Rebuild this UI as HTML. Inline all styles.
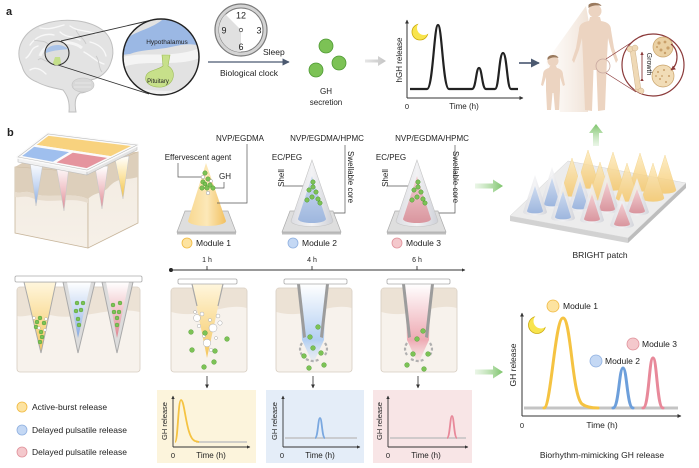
<!DOCTYPE html>
<html><head><meta charset="utf-8"><style>
html,body{margin:0;padding:0;background:#fff;}
svg{display:block;}
text{font-family:"Liberation Sans",Arial,sans-serif;fill:#222;}
</style></head><body>
<svg width="699" height="468" viewBox="0 0 699 468" xmlns="http://www.w3.org/2000/svg">
<defs>
<linearGradient id="gYel" x1="0" y1="0" x2="0" y2="1"><stop offset="0" stop-color="#fde9b8"/><stop offset="1" stop-color="#f6c562"/></linearGradient>
<linearGradient id="gYelH" x1="0" y1="0" x2="1" y2="0"><stop offset="0" stop-color="#f8d890"/><stop offset="0.5" stop-color="#fce8b8"/><stop offset="1" stop-color="#f2c060"/></linearGradient>
<linearGradient id="gBlue" x1="0" y1="0" x2="0" y2="1"><stop offset="0" stop-color="#cfdcf0"/><stop offset="1" stop-color="#9db6de"/></linearGradient>
<linearGradient id="gRed" x1="0" y1="0" x2="0" y2="1"><stop offset="0" stop-color="#f3d0d3"/><stop offset="1" stop-color="#d9959e"/></linearGradient>
<linearGradient id="gShell" x1="0" y1="0" x2="1" y2="0"><stop offset="0" stop-color="#dcdde2"/><stop offset="0.5" stop-color="#f2f2f4"/><stop offset="1" stop-color="#cfd1d8"/></linearGradient>
<linearGradient id="nBlue" x1="0" y1="0" x2="0" y2="1"><stop offset="0" stop-color="#ffffff"/><stop offset="0.55" stop-color="#c4d6f2"/><stop offset="1" stop-color="#86a9e0"/></linearGradient>
<linearGradient id="nRed" x1="0" y1="0" x2="0" y2="1"><stop offset="0" stop-color="#ffffff"/><stop offset="0.55" stop-color="#f0c2c7"/><stop offset="1" stop-color="#de8590"/></linearGradient>
<linearGradient id="nYel" x1="0" y1="0" x2="0" y2="1"><stop offset="0" stop-color="#fff6dd"/><stop offset="1" stop-color="#f5c75e"/></linearGradient>
<linearGradient id="nYel2" x1="0" y1="0" x2="0" y2="1"><stop offset="0" stop-color="#ffffff"/><stop offset="0.5" stop-color="#fbe3a0"/><stop offset="1" stop-color="#f2c040"/></linearGradient>
<linearGradient id="glowB" x1="0" y1="0" x2="0" y2="1"><stop offset="0" stop-color="#ffffff"/><stop offset="0.7" stop-color="#b3cff2"/><stop offset="1" stop-color="#d8e6f8" stop-opacity="0.3"/></linearGradient>
<linearGradient id="glowR" x1="0" y1="0" x2="0" y2="1"><stop offset="0" stop-color="#ffffff"/><stop offset="0.7" stop-color="#eeaab3"/><stop offset="1" stop-color="#f6d6da" stop-opacity="0.3"/></linearGradient>
<linearGradient id="skinL" x1="0" y1="0" x2="0" y2="1"><stop offset="0" stop-color="#e4d6c4"/><stop offset="0.35" stop-color="#ece2d5"/><stop offset="1" stop-color="#f6f1ea"/></linearGradient>
<linearGradient id="boxF" x1="0" y1="0" x2="0" y2="1"><stop offset="0" stop-color="#f2ebe1"/><stop offset="1" stop-color="#f6f0e8"/></linearGradient>
<linearGradient id="arrG" x1="0" y1="0" x2="1" y2="0"><stop offset="0" stop-color="#b9dfae" stop-opacity="0.3"/><stop offset="1" stop-color="#7cc46a"/></linearGradient>
<linearGradient id="arrGU" x1="0" y1="1" x2="0" y2="0"><stop offset="0" stop-color="#b9dfae" stop-opacity="0.3"/><stop offset="1" stop-color="#7cc46a"/></linearGradient>
<linearGradient id="arrGray" x1="0" y1="0" x2="1" y2="0"><stop offset="0" stop-color="#e6e6e6"/><stop offset="1" stop-color="#c4c4c4"/></linearGradient>
<linearGradient id="shadowG" x1="0" y1="0" x2="1" y2="0"><stop offset="0" stop-color="#f7eee6" stop-opacity="0.2"/><stop offset="1" stop-color="#efe0d3"/></linearGradient>
<clipPath id="zc"><circle cx="161" cy="57" r="38"/></clipPath>
<clipPath id="gc"><circle cx="653" cy="65" r="31"/></clipPath>
<mask id="moon1"><rect x="0" y="0" width="699" height="468" fill="#fff"/><circle cx="424" cy="28" r="7" fill="#000"/></mask>
<mask id="moon2"><rect x="0" y="0" width="699" height="468" fill="#fff"/><circle cx="541" cy="321" r="7.5" fill="#000"/></mask>
<marker id="ahb" viewBox="0 0 10 10" refX="9" refY="5" markerWidth="6" markerHeight="6" orient="auto"><path d="M0,0 L10,5 L0,10 Z" fill="#4b5970"/></marker>
<marker id="ahs" viewBox="0 0 10 10" refX="9" refY="5" markerWidth="4" markerHeight="4" orient="auto"><path d="M0,0 L10,5 L0,10 Z" fill="#333"/></marker>
<marker id="ahr" viewBox="0 0 10 10" refX="9" refY="5" markerWidth="4" markerHeight="4" orient="auto"><path d="M0,0 L10,5 L0,10 Z" fill="#8b3a3a"/></marker>
</defs>

<!-- ============ PANEL A ============ -->
<text x="6" y="15" font-size="11" font-weight="bold">a</text>

<!-- brain -->
<path d="M22,66 C14,50 22,31 44,24 C62,18 86,19 101,29 C113,37 115,52 111,62 C108,72 100,78 91,80 C93,87 88,93 80,93 C76,96 74,101 76,112 L69,112 C70,101 67,95 63,90 C54,88 44,86 37,82 C29,79 24,74 22,66 Z" fill="#e3e3e3" stroke="#bfbfbf" stroke-width="1"/>
<g fill="none" stroke="#f8f8f8" stroke-width="1.4" stroke-linecap="round">
<path d="M30,45 C36,36 46,33 54,35"/><path d="M40,28 C50,30 56,27 64,25"/><path d="M70,26 C78,32 88,30 96,34"/>
<path d="M26,58 C32,54 30,48 38,46"/><path d="M90,42 C98,44 104,48 106,56"/><path d="M84,52 C92,56 96,62 104,64"/>
<path d="M30,70 C36,66 42,70 46,74"/><path d="M60,32 C66,38 74,36 80,40"/>
</g>
<g fill="none" stroke="#cacaca" stroke-width="0.9">
<path d="M34,40 C40,42 44,40 48,44"/><path d="M76,30 C78,36 84,38 86,44"/><path d="M96,56 C100,60 98,68 102,72"/><path d="M38,60 C42,56 44,62 50,62"/>
</g>
<path d="M40,56 C44,42 70,38 82,48" fill="none" stroke="#f5f5f5" stroke-width="3"/>
<ellipse cx="83" cy="85" rx="11" ry="7" fill="#d8d8d8" stroke="#c2c2c2" stroke-width="0.6"/>
<path d="M75,83 L91,83 M74,87 L91,87" stroke="#eaeaea" stroke-width="0.8"/>
<circle cx="57" cy="53" r="12" fill="#dedede" stroke="#333" stroke-width="1.1"/>
<path d="M46,50 C50,44 62,43 68,49 C62,50 54,50 46,53 Z" fill="#a9c3e8"/>
<path d="M55,57 L60,57 L61,63 C59,66 54,66 53,63 Z" fill="#c4df8a"/>
<line x1="61" y1="41" x2="152" y2="20" stroke="#333" stroke-width="0.9"/>
<line x1="58" y1="65" x2="149" y2="94" stroke="#333" stroke-width="0.9"/>
<!-- zoom circle -->
<circle cx="161" cy="57" r="38" fill="#e2e2e2"/>
<g clip-path="url(#zc)">
<path d="M120,58 C140,50 170,60 200,48 L200,58 C175,68 145,58 120,68 Z" fill="#f4f4f4"/>
<path d="M120,44 C130,32 150,30 162,20 L200,18 L200,46 C188,42 178,46 166,48 C152,50 140,50 130,54 L120,55 Z" fill="#9bb8e4"/>
<path d="M120,90 C140,84 150,96 200,88 L200,100 L120,100 Z" fill="#f0f0f0"/>
</g>
<path d="M162,55 L170,55 L168,66 C176,70 176,84 162,87 C150,88 144,82 146,76 C148,70 158,70 163,66 Z" fill="#c7e08a" stroke="#9bbb55" stroke-width="0.6"/>
<circle cx="161" cy="57" r="38" fill="none" stroke="#222" stroke-width="1.5"/>
<text x="167" y="44" font-size="6.5" text-anchor="middle" fill="#333">Hypothalamus</text>
<text x="158" y="83" font-size="6" text-anchor="middle" fill="#333">Pituitary</text>

<!-- clock -->
<circle cx="241" cy="30" r="26" fill="#d4d4d4" stroke="#7a7a7a" stroke-width="1.2"/>
<circle cx="241" cy="30" r="22" fill="#fff" stroke="#7a7a7a" stroke-width="1"/>
<path d="M241,30 L241,52 A22,22 0 0,1 225.4,14.4 Z" fill="#e0e0e0"/>
<circle cx="241" cy="30" r="1.7" fill="#fff" stroke="#555" stroke-width="0.8"/>
<text x="241" y="18.5" font-size="9" text-anchor="middle">12</text>
<text x="259" y="33.5" font-size="9" text-anchor="middle">3</text>
<text x="241" y="50" font-size="9" text-anchor="middle">6</text>
<text x="224" y="33.5" font-size="9" text-anchor="middle">9</text>
<text x="263" y="55" font-size="8.5">Sleep</text>
<line x1="208" y1="62" x2="289" y2="62" stroke="#4b5970" stroke-width="1.2" marker-end="url(#ahb)"/>
<text x="249" y="76" font-size="8.5" text-anchor="middle" fill="#333">Biological clock</text>

<!-- GH secretion -->
<circle cx="326" cy="46" r="7" fill="#7cc255" stroke="#4f9a34" stroke-width="0.8"/>
<circle cx="316" cy="70" r="7" fill="#7cc255" stroke="#4f9a34" stroke-width="0.8"/>
<circle cx="339" cy="63" r="7" fill="#7cc255" stroke="#4f9a34" stroke-width="0.8"/>
<text x="326" y="94" font-size="8" text-anchor="middle" fill="#333">GH</text>
<text x="326" y="105" font-size="8" text-anchor="middle" fill="#333">secretion</text>

<!-- gray arrow -->
<polygon points="365,59.5 378,59.5 378,56 386,61 378,66 378,62.5 365,62.5" fill="url(#arrGray)"/>

<!-- hGH graph -->
<line x1="407" y1="98" x2="407" y2="20" stroke="#333" stroke-width="1" marker-end="url(#ahs)"/>
<line x1="407" y1="98" x2="523" y2="98" stroke="#333" stroke-width="1" marker-end="url(#ahs)"/>
<path d="M410,89 L427,89 C433,89 434,25 438,25 C442,25 443,89 449,89 L472,89 C476,89 476,68 479,68 C482,68 482,89 486,89 L495,89 C499,89 499,53 503,53 C507,53 507,89 511,89 L518,89" fill="none" stroke="#222" stroke-width="2.2" stroke-linejoin="round"/>
<text transform="translate(402,60) rotate(-90)" font-size="8" text-anchor="middle" fill="#333">hGH release</text>
<text x="407" y="109" font-size="7.5" text-anchor="middle" fill="#333">0</text>
<text x="464" y="109" font-size="8" text-anchor="middle" fill="#333">Time (h)</text>
<circle cx="420" cy="32" r="8" fill="#f8e44d" stroke="#caa90d" stroke-width="0.8" mask="url(#moon1)"/>

<!-- dark arrow -->
<line x1="519" y1="63" x2="539" y2="63" stroke="#3b4a66" stroke-width="1.5" marker-end="url(#ahb)"/>

<!-- humans -->
<polygon points="546,62 586,6 592,40 588,112 560,112" fill="url(#shadowG)"/>
<circle cx="595" cy="11" r="6.5" fill="#ecd4c1"/>
<path d="M588.5,5 C590,2 600,2 601.5,6 C598,5 592,5 588.5,8 Z" fill="#9a7a5e"/>
<path d="M590,17 L600,17 L601,21 C608,22 611,25 611,30 L614,48 L618,60 L616,63 L611,50 L608,38 L607,58 L605,110 L598,111 L596.5,70 L593.5,70 L592,111 L585,110 L583,58 L582,38 L579,50 L574,63 L572,60 L576,48 L579,30 C579,25 582,22 589,21 Z" fill="#ecd4c1"/>
<circle cx="553" cy="61" r="5.5" fill="#ecd4c1"/>
<path d="M547.5,58 C549,54 557,54 558.5,58 C555,57 551,57 547.5,60 Z" fill="#9a7a5e"/>
<path d="M550,66 L556,66 L557,68 C561,69 563,71 563,75 L565,85 L563,86 L560,77 L560,90 L559,110 L555,110 L553.5,93 L552.5,93 L551,110 L547,110 L546,90 L546,77 L543,86 L541,85 L543,75 C543,71 545,69 549,68 Z" fill="#ecd4c1"/>
<circle cx="603" cy="66" r="7" fill="none" stroke="#c9a9a0" stroke-width="0.8"/>
<line x1="606" y1="59" x2="640" y2="37" stroke="#8b3a3a" stroke-width="0.7"/>
<line x1="606" y1="73" x2="636" y2="92" stroke="#8b3a3a" stroke-width="0.7"/>
<circle cx="653" cy="65" r="31" fill="#fff" stroke="#8b3a3a" stroke-width="1.2"/>
<g clip-path="url(#gc)">
<path d="M630,50 L635,49 L641,90 L636,91 Z" fill="#efd9b6" stroke="#cdb08a" stroke-width="0.5"/>
<circle cx="630" cy="49" r="3" fill="#efd9b6" stroke="#cdb08a" stroke-width="0.5"/>
<circle cx="635" cy="48" r="3" fill="#efd9b6" stroke="#cdb08a" stroke-width="0.5"/>
<circle cx="636" cy="92" r="3" fill="#efd9b6" stroke="#cdb08a" stroke-width="0.5"/>
<circle cx="641" cy="91" r="3" fill="#efd9b6" stroke="#cdb08a" stroke-width="0.5"/>
</g>
<line x1="642" y1="78" x2="642" y2="52" stroke="#8b3a3a" stroke-width="0.9" marker-end="url(#ahr)" marker-start="url(#ahr)"/>
<text transform="translate(647,64) rotate(90)" font-size="7" text-anchor="middle" fill="#333">Growth</text>
<circle cx="663" cy="47" r="10" fill="#ead1a4" stroke="#c9a36a" stroke-width="0.7"/>
<circle cx="663" cy="76" r="11" fill="#f1dcb6" stroke="#c9a36a" stroke-width="0.7"/>
<g fill="#c9a06a">
<circle cx="659" cy="43" r="1.6"/><circle cx="665" cy="42" r="1.4"/><circle cx="668" cy="48" r="1.6"/><circle cx="661" cy="50" r="1.5"/><circle cx="657" cy="47" r="1"/><circle cx="665" cy="53" r="1.2"/>
<circle cx="658" cy="72" r="1"/><circle cx="664" cy="70" r="1"/><circle cx="669" cy="76" r="1"/><circle cx="660" cy="79" r="1"/><circle cx="666" cy="82" r="1"/><circle cx="656" cy="76" r="0.9"/><circle cx="662" cy="76" r="0.9"/>
</g>
<path d="M671,44 C679,50 679,64 671,70" fill="none" stroke="#8b3a3a" stroke-width="1.2" marker-end="url(#ahr)"/>

<!-- green up arrow -->
<polygon points="593,146 593,133 589,133 596,124 603,133 599,133 599,146" fill="url(#arrGU)"/>

<!-- ============ PANEL B ============ -->
<text x="7" y="136" font-size="11" font-weight="bold">b</text>

<!-- 3D patch box -->
<polygon points="15,167 45,150 138,152 88,173" fill="#dccdb8"/>
<polygon points="15,167 88,173 88,248 15,233" fill="url(#boxF)" stroke="#c8b69c" stroke-width="0.8"/>
<polygon points="88,173 138,152 138,223 88,248" fill="url(#boxF)" stroke="#c8b69c" stroke-width="0.8"/>
<path d="M15,167 L88,173 L88,199 C70,191 50,200 32,193 C25,190 20,194 15,192 Z" fill="#ddcfbb"/>
<path d="M88,173 L138,152 L138,177 C125,181 118,176 108,188 C102,194 95,192 88,199 Z" fill="#ddcfbb"/>
<path d="M15,192 C20,194 25,190 32,193 C50,200 70,191 88,199 L88,203 C70,196 50,205 32,198 C25,195 20,198 15,197 Z" fill="#e7dccd"/>
<polygon points="30,162 43,163 36,206" fill="url(#nBlue)" stroke="#c8c8c8" stroke-width="0.6"/>
<polygon points="56,165 69,166 64,211" fill="url(#nRed)" stroke="#c8c8c8" stroke-width="0.6"/>
<polygon points="95,167 108,166 102,209" fill="url(#nRed)" stroke="#c8c8c8" stroke-width="0.6"/>
<polygon points="115,159 129,156 123,199" fill="url(#nYel2)" stroke="#c8c8c8" stroke-width="0.6"/>
<polygon points="18,157 87,170 87,175 18,162" fill="#f1f1f1" stroke="#bdbdbd" stroke-width="0.6"/>
<polygon points="87,170 137,145 137,150 87,175" fill="#e4e4e4" stroke="#bdbdbd" stroke-width="0.6"/>
<polygon points="18,157 48,134 137,145 87,170" fill="#fbfbfb" stroke="#bdbdbd" stroke-width="0.7"/>
<g stroke="#fbfbfb" stroke-width="2.4" stroke-linejoin="round">
<polygon points="33,145.5 48,134 137,145 112,157.5 72.5,151.5" fill="#f8d27e"/>
<polygon points="18,157 33,145.5 72.5,151.5 52.5,163.5" fill="#9fbfee"/>
<polygon points="72.5,151.5 112,157.5 87,170 52.5,163.5" fill="#e5949e"/>
</g>
<polygon points="18,157 48,134 137,145 87,170" fill="none" stroke="#fbfbfb" stroke-width="3.5" stroke-linejoin="round"/>
<polygon points="18,157 48,134 137,145 87,170" fill="none" stroke="#bdbdbd" stroke-width="0.6"/>

<!-- labels row -->
<text x="240" y="141" font-size="8" text-anchor="middle">NVP/EGDMA</text>
<text x="327" y="141" font-size="8" text-anchor="middle">NVP/EGDMA/HPMC</text>
<text x="432" y="141" font-size="8" text-anchor="middle">NVP/EGDMA/HPMC</text>
<text x="198" y="160" font-size="8" text-anchor="middle">Effervescent agent</text>
<text x="219" y="179" font-size="8">GH</text>
<text x="287" y="160" font-size="8" text-anchor="middle">EC/PEG</text>
<text x="391" y="160" font-size="8" text-anchor="middle">EC/PEG</text>
<text transform="translate(284,178) rotate(-90)" font-size="8" text-anchor="middle" fill="#9a9a9a">Shell</text>
<text transform="translate(388,178) rotate(-90)" font-size="8" text-anchor="middle" fill="#9a9a9a">Shell</text>
<text transform="translate(348,177) rotate(90)" font-size="8" text-anchor="middle" fill="#7f9fd6">Swellable core</text>
<text transform="translate(453,177) rotate(90)" font-size="8" text-anchor="middle" fill="#e3a0a9">Swellable core</text>

<!-- module 1 -->
<polygon points="177,232 236,232 236,234.5 177,234.5" fill="#bdbdbd"/>
<polygon points="185,211 228,211 236,232 177,232" fill="#dedede" stroke="#ababab" stroke-width="0.7"/>
<path d="M206,163 L188,221 A19,5 0 0,0 226,221 Z" fill="url(#gYelH)"/>
<g fill="none" stroke="#555" stroke-width="0.7">
<path d="M247,144 L247,203 L217,203"/><path d="M178,163 L178,177 L202,177"/><path d="M224,182 L224,188 L213,188"/>
<path d="M345,145 L345,213 L322,213"/><path d="M283,186 L306,186"/>
<path d="M455,145 L455,213 L427,213"/><path d="M387,186 L410,186"/>
</g>
<g fill="#7cc255" stroke="#4f9a34" stroke-width="0.5">
<circle cx="205" cy="173" r="2.2"/><circle cx="208" cy="179" r="2.2"/><circle cx="203" cy="182" r="2.2"/><circle cx="210" cy="185" r="2.2"/><circle cx="202" cy="188" r="2.2"/><circle cx="207" cy="188" r="2.2"/><circle cx="213" cy="188" r="2.2"/><circle cx="205" cy="184" r="2"/>
</g>
<g fill="#fff" stroke="#999" stroke-width="0.5"><circle cx="208" cy="193" r="1.8"/><circle cx="203" cy="177" r="1.8"/><circle cx="211" cy="181" r="1.5"/></g>
<circle cx="187" cy="243" r="5" fill="#fde3a0" stroke="#f0b940" stroke-width="0.8"/>
<text x="196" y="246" font-size="8.5">Module 1</text>

<!-- module 2 -->
<polygon points="282,232 341,232 341,234.5 282,234.5" fill="#bdbdbd"/>
<polygon points="290,211 333,211 341,232 282,232" fill="#dedede" stroke="#ababab" stroke-width="0.7"/>
<path d="M312,160 L291,221 A21,5.5 0 0,0 333,221 Z" fill="url(#gShell)" stroke="#c4c4c4" stroke-width="0.6"/>
<path d="M312,176 L298,219 A14,4 0 0,0 326,219 Z" fill="url(#gBlue)"/>
<g fill="#7cc255" stroke="#4f9a34" stroke-width="0.5">
<circle cx="313" cy="182" r="2.2"/><circle cx="309" cy="190" r="2.2"/><circle cx="316" cy="192" r="2.2"/><circle cx="312" cy="197" r="2.2"/><circle cx="307" cy="200" r="2.2"/><circle cx="318" cy="199" r="2.2"/><circle cx="320" cy="203" r="2.2"/><circle cx="313" cy="187" r="2.2"/>
</g>
<circle cx="293" cy="243" r="5" fill="#c4d8f4" stroke="#8fb0e0" stroke-width="0.8"/>
<text x="302" y="246" font-size="8.5">Module 2</text>

<!-- module 3 -->
<polygon points="387,232 446,232 446,234.5 387,234.5" fill="#bdbdbd"/>
<polygon points="395,211 438,211 446,232 387,232" fill="#dedede" stroke="#ababab" stroke-width="0.7"/>
<path d="M417,160 L396,221 A21,5.5 0 0,0 438,221 Z" fill="url(#gShell)" stroke="#c4c4c4" stroke-width="0.6"/>
<path d="M417,176 L403,219 A14,4 0 0,0 431,219 Z" fill="url(#gRed)"/>
<g fill="#7cc255" stroke="#4f9a34" stroke-width="0.5">
<circle cx="418" cy="182" r="2.2"/><circle cx="414" cy="190" r="2.2"/><circle cx="421" cy="192" r="2.2"/><circle cx="417" cy="197" r="2.2"/><circle cx="412" cy="200" r="2.2"/><circle cx="423" cy="199" r="2.2"/><circle cx="425" cy="203" r="2.2"/><circle cx="418" cy="187" r="2.2"/>
</g>
<circle cx="397" cy="243" r="5" fill="#f4c8cc" stroke="#e0919a" stroke-width="0.8"/>
<text x="406" y="246" font-size="8.5">Module 3</text>

<!-- green arrow -> patch -->
<polygon points="475,183.5 493,183.5 493,179.5 503,186 493,192.5 493,188.5 475,188.5" fill="url(#arrG)"/>

<!-- BRIGHT patch -->
<polygon points="510,216 628,238 628,243 510,221" fill="#d2d2d2"/>
<polygon points="628,238 686,183 686,188 628,243" fill="#bdbdbd"/>
<polygon points="510,216 568,161 686,183 628,238" fill="#ececec" stroke="#d4d4d4" stroke-width="0.5"/>
<g fill="url(#gYel)" opacity="0.8" stroke="#efc76a" stroke-width="0.4">
<path d="M588,150 L577,185 A11,3.5 0 0,0 599,185 Z"/>
<path d="M613,152 L602,187 A11,3.5 0 0,0 624,187 Z"/>
<path d="M640,153 L629,188 A11,3.5 0 0,0 651,188 Z"/>
<path d="M665,155 L654,190 A11,3.5 0 0,0 676,190 Z"/>
<path d="M572,158 L561,193 A11,3.5 0 0,0 583,193 Z"/>
<path d="M600,162 L589,197 A11,3.5 0 0,0 611,197 Z"/>
<path d="M627,163 L616,198 A11,3.5 0 0,0 638,198 Z"/>
<path d="M653,163 L642,198 A11,3.5 0 0,0 664,198 Z"/>
</g>
<g>
<path d="M552,167 L540,205 A12,3.5 0 0,0 564,205 Z" fill="url(#gShell)" opacity="0.85"/><path d="M552,178 L544,204 A8,2.4 0 0,0 560,204 Z" fill="url(#gBlue)"/>
<path d="M580,170 L568,208 A12,3.5 0 0,0 592,208 Z" fill="url(#gShell)" opacity="0.85"/><path d="M580,181 L572,207 A8,2.4 0 0,0 588,207 Z" fill="url(#gBlue)"/>
<path d="M607,170 L595,210 A12,3.5 0 0,0 619,210 Z" fill="url(#gShell)" opacity="0.85"/><path d="M607,182 L599,209 A8,2.4 0 0,0 615,209 Z" fill="url(#gRed)"/>
<path d="M637,178 L625,212 A12,3.5 0 0,0 649,212 Z" fill="url(#gShell)" opacity="0.85"/><path d="M637,189 L629,211 A8,2.4 0 0,0 645,211 Z" fill="url(#gRed)"/>
<path d="M535,175 L523,212 A12,3.5 0 0,0 547,212 Z" fill="url(#gShell)" opacity="0.85"/><path d="M535,186 L527,211 A8,2.4 0 0,0 543,211 Z" fill="url(#gBlue)"/>
<path d="M563,180 L551,218 A12,3.5 0 0,0 575,218 Z" fill="url(#gShell)" opacity="0.85"/><path d="M563,191 L555,217 A8,2.4 0 0,0 571,217 Z" fill="url(#gBlue)"/>
<path d="M592,183 L580,220 A12,3.5 0 0,0 604,220 Z" fill="url(#gShell)" opacity="0.85"/><path d="M592,194 L584,219 A8,2.4 0 0,0 600,219 Z" fill="url(#gRed)"/>
<path d="M622,193 L610,225 A12,3.5 0 0,0 634,225 Z" fill="url(#gShell)" opacity="0.85"/><path d="M622,203 L614,224 A8,2.4 0 0,0 630,224 Z" fill="url(#gRed)"/>
</g>
<text x="600" y="258" font-size="8.5" text-anchor="middle">BRIGHT patch</text>

<!-- timeline -->
<circle cx="171" cy="270" r="2" fill="#222"/>
<line x1="171" y1="270" x2="465" y2="270" stroke="#333" stroke-width="0.9" marker-end="url(#ahs)"/>
<g stroke="#333" stroke-width="0.9"><line x1="207" y1="266" x2="207" y2="270"/><line x1="312" y1="266" x2="312" y2="270"/><line x1="417" y1="266" x2="417" y2="270"/></g>
<text x="207" y="262" font-size="7" text-anchor="middle">1 h</text>
<text x="312" y="262" font-size="7" text-anchor="middle">4 h</text>
<text x="417" y="262" font-size="7" text-anchor="middle">6 h</text>

<!-- left skin block -->
<rect x="17" y="287" width="123" height="85" rx="3" fill="#f7f2ec" stroke="#d6ccc0" stroke-width="0.8"/>
<path d="M17.5,287.5 L139.5,287.5 L139.5,312 C110,305 80,322 50,315 C35,312 25,318 17.5,316 Z" fill="#ece2d5"/>
<polygon points="24,282 56,282 41,353" fill="url(#nYel)" stroke="#aaa" stroke-width="1"/>
<polygon points="63,282 95,282 78,353" fill="#dcdcdc" stroke="#aaa" stroke-width="1"/>
<polygon points="67,282 91,282 78,338" fill="url(#nBlue)"/>
<polygon points="102,282 133,282 117,353" fill="#dcdcdc" stroke="#aaa" stroke-width="1"/>
<polygon points="106,282 129,282 117,338" fill="url(#nRed)"/>
<rect x="15" y="276" width="127" height="6" rx="1.5" fill="#fff" stroke="#aaa" stroke-width="0.8"/>
<g fill="#7cc255" stroke="#4f9a34" stroke-width="0.4">
<circle cx="37" cy="322" r="2"/><circle cx="40" cy="318" r="2"/><circle cx="44" cy="323" r="2"/><circle cx="36" cy="327" r="2"/><circle cx="41" cy="332" r="2"/><circle cx="42" cy="337" r="2"/><circle cx="40" cy="342" r="2"/>
<circle cx="77" cy="303" r="2"/><circle cx="83" cy="303" r="2"/><circle cx="76" cy="311" r="2"/><circle cx="81" cy="310" r="2"/><circle cx="78" cy="319" r="2"/><circle cx="79" cy="325" r="2"/>
<circle cx="113" cy="305" r="2"/><circle cx="120" cy="303" r="2"/><circle cx="114" cy="312" r="2"/><circle cx="119" cy="312" r="2"/><circle cx="117" cy="318" r="2"/><circle cx="117" cy="325" r="2"/>
</g>
<g fill="#fff" stroke="#aaa" stroke-width="0.4"><circle cx="34" cy="318" r="1.5"/><circle cx="46" cy="319" r="1.5"/><circle cx="39" cy="328" r="1.4"/><circle cx="45" cy="330" r="1.4"/></g>

<!-- block 1 -->
<rect x="171" y="288" width="76" height="84" rx="3" fill="#f7f2ec" stroke="#d6ccc0" stroke-width="0.8"/>
<path d="M171.5,288.5 L246.5,288.5 L246.5,308 C225,302 200,320 171.5,312 Z" fill="#ece2d5"/>
<path d="M192,284 L223,284 L207,358 Z" fill="url(#nYel)"/>
<path d="M192,284 L197,306 M223,284 L218,306" stroke="#a8a8a8" stroke-width="1.2"/>
<rect x="178" y="279" width="59" height="5" rx="1.5" fill="#fff" stroke="#aaa" stroke-width="0.8"/>
<g fill="#fff" stroke="#aaa" stroke-width="0.5">
<circle cx="197" cy="318" r="3.5"/><circle cx="202" cy="314" r="2"/><circle cx="213" cy="328" r="4"/><circle cx="207" cy="343" r="3.8"/><circle cx="218" cy="316" r="2"/><circle cx="210" cy="320" r="1.6"/><circle cx="220" cy="323" r="2.2"/><circle cx="199" cy="326" r="1.8"/><circle cx="204" cy="336" r="1.6"/><circle cx="211" cy="350" r="1.8"/><circle cx="216" cy="338" r="1.5"/><circle cx="195" cy="312" r="1.5"/>
</g>
<g fill="#7cc255" stroke="#4f9a34" stroke-width="0.4">
<circle cx="191" cy="332" r="2.4"/><circle cx="227" cy="339" r="2.4"/><circle cx="192" cy="350" r="2.4"/><circle cx="215" cy="351" r="2.4"/><circle cx="214" cy="362" r="2.4"/><circle cx="204" cy="367" r="2.4"/><circle cx="205" cy="333" r="2.4"/>
</g>

<!-- block 2 -->
<rect x="276" y="288" width="76" height="84" rx="3" fill="#f7f2ec" stroke="#d6ccc0" stroke-width="0.8"/>
<path d="M276.5,288.5 L351.5,288.5 L351.5,308 C330,302 305,320 276.5,312 Z" fill="#ece2d5"/>
<polygon points="300,284 326,284 324,340 313,364 302,340" fill="url(#glowB)"/>
<polygon points="297,284 300,284 306,337 303,338" fill="#9c9c9c"/>
<polygon points="326,284 329,284 323,338 320,337" fill="#9c9c9c"/>
<g fill="none" stroke="#b0b0b0" stroke-width="2.2" stroke-dasharray="3,2">
<path d="M302,343 Q298,349 302,355"/><path d="M325,343 Q329,349 325,355"/><path d="M306,359 Q313,363 320,359"/>
</g>
<rect x="284" y="279" width="63" height="5" rx="1.5" fill="#fff" stroke="#aaa" stroke-width="0.8"/>
<g fill="#7cc255" stroke="#4f9a34" stroke-width="0.4">
<circle cx="318" cy="327" r="2.4"/><circle cx="310" cy="337" r="2.4"/><circle cx="313" cy="348" r="2.4"/><circle cx="321" cy="353" r="2.4"/><circle cx="304" cy="356" r="2.4"/><circle cx="324" cy="365" r="2.4"/><circle cx="309" cy="368" r="2.4"/>
</g>

<!-- block 3 -->
<rect x="381" y="288" width="76" height="84" rx="3" fill="#f7f2ec" stroke="#d6ccc0" stroke-width="0.8"/>
<path d="M381.5,288.5 L456.5,288.5 L456.5,308 C435,302 410,320 381.5,312 Z" fill="#ece2d5"/>
<polygon points="405,284 431,284 429,340 418,364 407,340" fill="url(#glowR)"/>
<polygon points="402,284 405,284 411,337 408,338" fill="#9c9c9c"/>
<polygon points="431,284 434,284 428,338 425,337" fill="#9c9c9c"/>
<g fill="none" stroke="#b0b0b0" stroke-width="2.2" stroke-dasharray="3,2">
<path d="M407,343 Q403,349 407,355"/><path d="M430,343 Q434,349 430,355"/><path d="M411,359 Q418,363 425,359"/>
</g>
<rect x="387" y="279" width="63" height="5" rx="1.5" fill="#fff" stroke="#aaa" stroke-width="0.8"/>
<g fill="#7cc255" stroke="#4f9a34" stroke-width="0.4">
<circle cx="423" cy="331" r="2.4"/><circle cx="417" cy="339" r="2.4"/><circle cx="413" cy="354" r="2.4"/><circle cx="428" cy="354" r="2.4"/><circle cx="407" cy="365" r="2.4"/><circle cx="424" cy="369" r="2.4"/>
</g>

<!-- down arrows -->
<g stroke="#555" stroke-width="1"><line x1="207" y1="376" x2="207" y2="388" marker-end="url(#ahs)"/><line x1="313" y1="376" x2="313" y2="388" marker-end="url(#ahs)"/><line x1="418" y1="376" x2="418" y2="388" marker-end="url(#ahs)"/></g>

<!-- legend -->
<circle cx="22" cy="407" r="5" fill="#fde3a0" stroke="#f0b940" stroke-width="0.8"/>
<circle cx="22" cy="430" r="5" fill="#c4d8f4" stroke="#8fb0e0" stroke-width="0.8"/>
<circle cx="22" cy="452" r="5" fill="#f4c8cc" stroke="#e0919a" stroke-width="0.8"/>
<text x="32" y="410" font-size="8.5" fill="#333">Active-burst release</text>
<text x="32" y="433" font-size="8.5" fill="#333">Delayed pulsatile release</text>
<text x="32" y="455" font-size="8.5" fill="#333">Delayed pulsatile release</text>

<!-- small graphs -->
<rect x="157" y="390" width="99" height="73" fill="#fcf4dc"/>
<rect x="266" y="390" width="98" height="73" fill="#e4edf8"/>
<rect x="373" y="390" width="99" height="73" fill="#f8e5e6"/>
<g stroke="#333" stroke-width="0.9">
<line x1="173" y1="447" x2="173" y2="396" marker-end="url(#ahs)"/><line x1="173" y1="447" x2="250" y2="447" marker-end="url(#ahs)"/>
<line x1="283" y1="447" x2="283" y2="396" marker-end="url(#ahs)"/><line x1="283" y1="447" x2="360" y2="447" marker-end="url(#ahs)"/>
<line x1="388" y1="447" x2="388" y2="396" marker-end="url(#ahs)"/><line x1="388" y1="447" x2="468" y2="447" marker-end="url(#ahs)"/>
</g>
<path d="M196,442 L247,442" stroke="#c2c2c2" stroke-width="1.6" fill="none"/>
<path d="M175,442 C178,442 178,400 181,400 C185,400 186,438 195,441 L199,442" stroke="#f5c342" stroke-width="1.8" fill="none"/>
<path d="M285,438 L357,438" stroke="#c2c2c2" stroke-width="1.6" fill="none"/>
<path d="M315,438 C318,438 318,418 320,418 C322,418 322,438 325,438" stroke="#7aa8e0" stroke-width="1.8" fill="none"/>
<path d="M390,438 L466,438" stroke="#c2c2c2" stroke-width="1.6" fill="none"/>
<path d="M447,438 C450,438 450,416 452,416 C454,416 454,438 457,438" stroke="#e8899a" stroke-width="1.8" fill="none"/>
<text transform="translate(167,421) rotate(-90)" font-size="7.5" text-anchor="middle">GH release</text>
<text transform="translate(277,421) rotate(-90)" font-size="7.5" text-anchor="middle">GH release</text>
<text transform="translate(382,421) rotate(-90)" font-size="7.5" text-anchor="middle">GH release</text>
<text x="173" y="458" font-size="7.5" text-anchor="middle">0</text>
<text x="211" y="458" font-size="8" text-anchor="middle">Time (h)</text>
<text x="282" y="458" font-size="7.5" text-anchor="middle">0</text>
<text x="320" y="458" font-size="8" text-anchor="middle">Time (h)</text>
<text x="388" y="458" font-size="7.5" text-anchor="middle">0</text>
<text x="426" y="458" font-size="8" text-anchor="middle">Time (h)</text>

<!-- green arrow -> big graph -->
<polygon points="475,369.5 493,369.5 493,365.5 503,372 493,378.5 493,374.5 475,374.5" fill="url(#arrG)"/>

<!-- big graph -->
<line x1="522" y1="416" x2="522" y2="313" stroke="#333" stroke-width="1" marker-end="url(#ahs)"/>
<line x1="522" y1="416" x2="681" y2="416" stroke="#333" stroke-width="1" marker-end="url(#ahs)"/>
<path d="M524,408 L678,408" stroke="#c4c4c4" stroke-width="3" fill="none"/>
<path d="M544,408 C551,408 555,318 563,318 C571,318 572,395 582,404 C586,407 592,408 598,408" stroke="#f5c342" stroke-width="3" fill="none" stroke-linecap="round"/>
<path d="M613,408 C619,408 619,368 623,368 C627,368 627,408 633,408" stroke="#6d9fdb" stroke-width="3" fill="none" stroke-linecap="round"/>
<path d="M643,408 C649,408 649,358 653,358 C657,358 657,408 663,408" stroke="#e8899a" stroke-width="3" fill="none" stroke-linecap="round"/>
<circle cx="537" cy="325" r="8.5" fill="#f8e44d" stroke="#caa90d" stroke-width="0.8" mask="url(#moon2)"/>
<circle cx="553" cy="306" r="6" fill="#fde3a0" stroke="#f0b940" stroke-width="0.8"/>
<text x="563" y="309" font-size="8.5">Module 1</text>
<circle cx="596" cy="361" r="6" fill="#c4d8f4" stroke="#8fb0e0" stroke-width="0.8"/>
<text x="605" y="364" font-size="8.5">Module 2</text>
<circle cx="633" cy="344" r="6" fill="#f4c8cc" stroke="#e0919a" stroke-width="0.8"/>
<text x="642" y="347" font-size="8.5">Module 3</text>
<text transform="translate(516,365) rotate(-90)" font-size="8.5" text-anchor="middle">GH release</text>
<text x="522" y="428" font-size="7.5" text-anchor="middle">0</text>
<text x="602" y="428" font-size="8.5" text-anchor="middle">Time (h)</text>
<text x="602" y="458" font-size="8.5" text-anchor="middle" fill="#333">Biorhythm-mimicking GH release</text>
</svg>
</body></html>
